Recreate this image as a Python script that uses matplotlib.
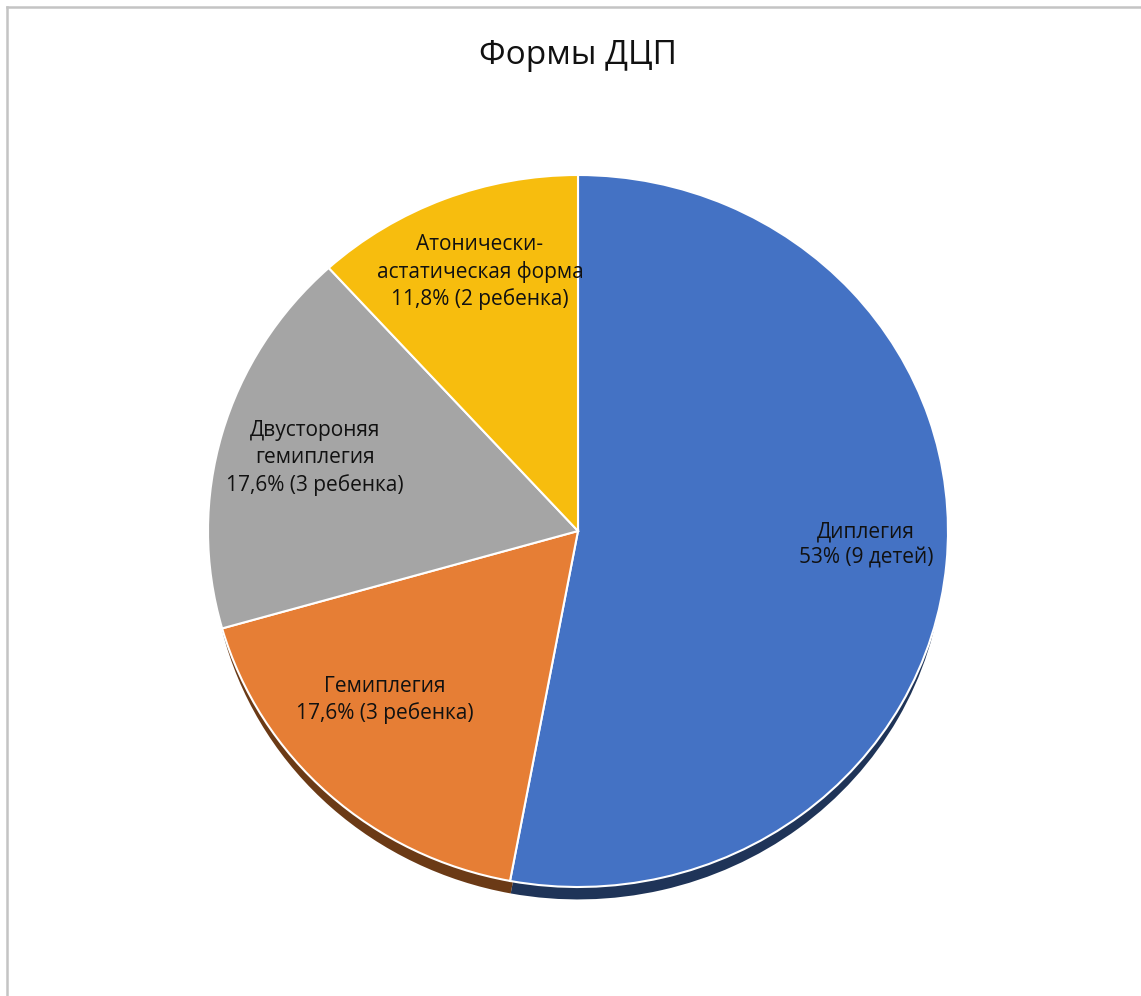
import matplotlib
matplotlib.use('Agg')
import matplotlib.pyplot as plt
from matplotlib.lines import Line2D

# Forms of cerebral palsy, number of children in each group
categories = ['Диплегия', 'Гемиплегия', 'Двустороняя\nгемиплегия', 'Атонически-\nастатическая форма']
children = [9, 3, 3, 2]
pct_labels = ['53% (9 детей)', '17,6% (3 ребенка)', '17,6% (3 ребенка)', '11,8% (2 ребенка)']

colors = ['#4472C4', '#E67E35', '#A5A5A5', '#F7BD0E']
side_colors = ['#1F3458', '#6B3A16', '#5A5A5A', '#7A5C06']

plt.rcParams['font.family'] = ['Open Sans', 'DejaVu Sans']

W, H = 1141, 996
fig = plt.figure(figsize=(W / 100, H / 100), dpi=100)
ax = fig.add_axes([0, 0, 1, 1])

# pie geometry in pixels (slightly flattened to mimic the tilted 3D look)
cx, cy, rx, ry = 578, 531, 370, 356

# side of the disc, peeking out below the top face
ax.pie(children, colors=side_colors, startangle=90, counterclock=False,
       radius=0.99, center=(0, -16 / ry),
       wedgeprops=dict(linewidth=0))

# top face
ax.pie(children, colors=colors, startangle=90, counterclock=False,
       radius=1.0, center=(0, 0),
       wedgeprops=dict(edgecolor='white', linewidth=1.5))

# pie() resets the limits, so set them afterwards
ax.set_aspect('auto')
ax.set_xlim(-cx / rx, (W - cx) / rx)
ax.set_ylim(-(H - cy) / ry, cy / ry)
ax.axis('off')

# data labels (pixel positions of label centres)
label_pos = [(866, 545), (385, 700), (315, 458), (480, 272)]
for name, pct, (px, py) in zip(categories, pct_labels, label_pos):
    ax.text((px - cx) / rx, (cy - py) / ry, name + '\n' + pct,
            ha='center', va='center', fontsize=15, color='#111111',
            linespacing=1.35)

fig.text(578 / W, 1 - 55 / H, 'Формы ДЦП', ha='center', va='center',
         fontsize=24, color='#111111')

# chart area frame (only left and top edges visible)
fig.add_artist(Line2D([7 / W, 7 / W], [0, 1 - 7 / H], transform=fig.transFigure,
                      color='#C4C4C4', linewidth=1.8))
fig.add_artist(Line2D([7 / W, 1], [1 - 7 / H, 1 - 7 / H], transform=fig.transFigure,
                      color='#C4C4C4', linewidth=1.8))

fig.savefig('out.png', dpi=100)
